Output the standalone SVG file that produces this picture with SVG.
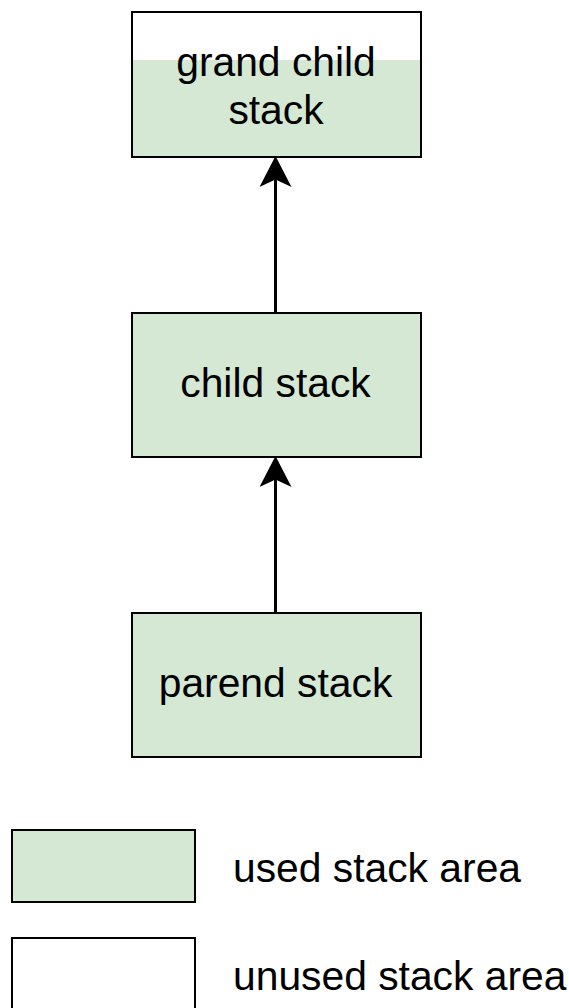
<svg xmlns="http://www.w3.org/2000/svg" width="569" height="1008" viewBox="0 0 569 1008">
  <style>
    .box { stroke: #000; stroke-width: 2; }
    .used { fill: #d5e8d4; }
    .unused { fill: #fff; }
    .lbl { font-family: "Liberation Sans", Arial, Helvetica, sans-serif; font-size: 40.8px; fill: #000; }
    .mid { text-anchor: middle; }
    .edge { stroke: #000; stroke-width: 3; fill: none; }
  </style>
  <defs>
    <marker id="arrow" markerUnits="userSpaceOnUse" markerWidth="32" markerHeight="32" viewBox="0 0 30 30" refX="14" refY="15" orient="auto">
      <path d="M0,0 L29,15 L0,30 L7,15 Z" fill="#000"/>
    </marker>
  </defs>

  <rect width="569" height="1008" fill="#fff"/>

  <!-- grand child stack: partly used -->
  <g id="grandchild">
    <rect x="132" y="12" width="289" height="145" class="unused"/>
    <rect x="132" y="60" width="289" height="97" class="used"/>
    <rect x="132" y="12" width="289" height="145" class="box" fill="none"/>
    <text x="276" y="76" class="lbl mid">grand child</text>
    <text x="276" y="124" class="lbl mid">stack</text>
  </g>

  <!-- child stack -->
  <g id="child">
    <rect x="132" y="313" width="289" height="144" class="box used"/>
    <text x="275.5" y="397" class="lbl mid">child stack</text>
  </g>

  <!-- parent stack -->
  <g id="parent">
    <rect x="132" y="613" width="289" height="144" class="box used"/>
    <text x="275.5" y="697" class="lbl mid">parend stack</text>
  </g>

  <!-- connectors -->
  <g id="edges">
    <path d="M275.5,313 L275.5,172" class="edge" marker-end="url(#arrow)"/>
    <path d="M275.5,613 L275.5,472" class="edge" marker-end="url(#arrow)"/>
  </g>

  <!-- legend -->
  <g id="legend-used">
    <rect x="12" y="830" width="183" height="72" class="box used"/>
    <text x="233" y="882" class="lbl">used stack area</text>
  </g>
  <g id="legend-unused">
    <rect x="12" y="938" width="183" height="74" class="box unused"/>
    <text x="233" y="990" class="lbl">unused stack area</text>
  </g>
</svg>
